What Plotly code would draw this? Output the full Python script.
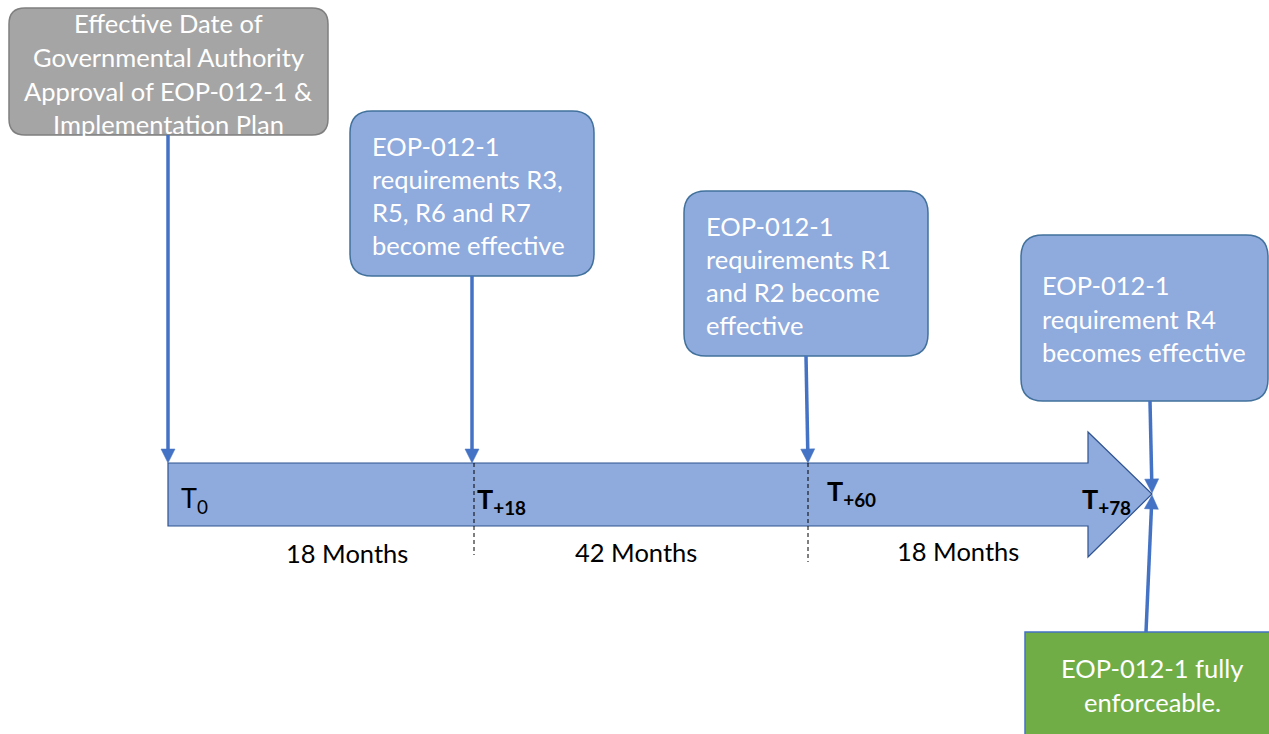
import math
import plotly.graph_objects as go

W, H = 1269, 734

# ---------------- data ----------------
milestone_months = [0, 18, 60, 78]
milestone_labels = ["T<sub>0</sub>", "<b>T<sub>+18</sub></b>", "<b>T<sub>+60</sub></b>", "<b>T<sub>+78</sub></b>"]
period_labels = ["18 Months", "42 Months", "18 Months"]

approval_lines = ["Effective Date of", "Governmental Authority", "Approval of EOP-012-1 &", "Implementation Plan"]
r3_lines = ["EOP-012-1", "requirements R3,", "R5, R6 and R7", "become effective"]
r1_lines = ["EOP-012-1", "requirements R1", "and R2 become", "effective"]
r4_lines = ["EOP-012-1", "requirement R4", "becomes effective"]
final_lines = ["EOP-012-1 fully", "enforceable."]

# ---------------- layout geometry (pixels) ----------------
FONT = "Lato"
TXT = 25.5
BLUE_FILL = "#8faadc"
BLUE_EDGE = "#41719c"
ARROW_COL = "#4472c4"

milestone_x = [168, 472, 807, 1152]
bar_top, bar_bot = 463, 526
head_x, head_top, head_bot, tip_y = 1088, 432, 557, 494

shapes = []
annotations = []


def rrect(x0, y0, x1, y1, r):
    return (f"M {x0+r},{y0} L {x1-r},{y0} Q {x1},{y0} {x1},{y0+r} "
            f"L {x1},{y1-r} Q {x1},{y1} {x1-r},{y1} L {x0+r},{y1} "
            f"Q {x0},{y1} {x0},{y1-r} L {x0},{y0+r} Q {x0},{y0} {x0+r},{y0} Z")


def box(x0, y0, x1, y1, r, fill, edge, lines, ys, tx, align):
    shapes.append(dict(type="path", path=rrect(x0, y0, x1, y1, r), xref="x", yref="y",
                       fillcolor=fill, line=dict(color=edge, width=1.5), layer="above"))
    for t, y in zip(lines, ys):
        annotations.append(dict(x=tx, y=y, xref="x", yref="y", text=t, showarrow=False,
                                xanchor=align, yanchor="middle",
                                font=dict(family=FONT, size=TXT, color="white")))


def arrow(x_tail, y_tail, x_tip, y_tip, head_len=14, head_half=7):
    dx, dy = x_tip - x_tail, y_tip - y_tail
    L = math.hypot(dx, dy)
    ux, uy = dx / L, dy / L
    bx, by = x_tip - ux * head_len, y_tip - uy * head_len
    px, py = -uy, ux
    shapes.append(dict(type="line", xref="x", yref="y", x0=x_tail, y0=y_tail,
                       x1=bx + ux * 2, y1=by + uy * 2,
                       line=dict(color=ARROW_COL, width=3.5), layer="above"))
    shapes.append(dict(type="path", xref="x", yref="y",
                       path=(f"M {x_tip},{y_tip} L {bx + px*head_half},{by + py*head_half} "
                             f"L {bx - px*head_half},{by - py*head_half} Z"),
                       fillcolor=ARROW_COL, line=dict(color=ARROW_COL, width=0.5), layer="above"))


# big timeline arrow
shapes.append(dict(type="path", xref="x", yref="y",
                   path=(f"M {milestone_x[0]},{bar_top} L {head_x},{bar_top} L {head_x},{head_top} "
                         f"L {milestone_x[3]},{tip_y} L {head_x},{head_bot} L {head_x},{bar_bot} "
                         f"L {milestone_x[0]},{bar_bot} Z"),
                   fillcolor=BLUE_FILL, line=dict(color="#2f528f", width=1.2), layer="below"))

# dashed separators
for x, y1 in [(474, 555), (808, 562)]:
    shapes.append(dict(type="line", xref="x", yref="y", x0=x, x1=x, y0=bar_top, y1=y1,
                       line=dict(color="black", width=1, dash="4px,3px"), layer="above"))

# boxes
box(9, 8, 328, 135, 16, "#a5a5a5", "#7f7f7f", approval_lines, [23, 57, 91, 124], 168, "center")
box(350, 111, 594, 276, 22, BLUE_FILL, BLUE_EDGE, r3_lines, [146, 179, 212, 245], 370, "left")
box(684, 191, 928, 356, 22, BLUE_FILL, BLUE_EDGE, r1_lines, [226, 259, 292, 325], 704, "left")
box(1021, 235, 1268, 401, 22, BLUE_FILL, BLUE_EDGE, r4_lines, [285, 319, 352], 1040, "left")
box(1025, 632, 1280, 745, 0, "#70ad47", ARROW_COL, final_lines, [668, 702], 1152, "center")

# arrows
arrow(168, 135, 168, bar_top)
arrow(472, 276, 472, bar_top)
arrow(806, 356, 808, bar_top)
arrow(1150, 401, 1152, tip_y - 1)
arrow(1146, 632, 1152, tip_y + 1)

# milestone labels
label_pos = [(179, 499), (475, 500), (825, 492), (1080, 500)]
for lab, (x, y) in zip(milestone_labels, label_pos):
    annotations.append(dict(x=x, y=y, xref="x", yref="y", text=lab, showarrow=False,
                            xanchor="left", yanchor="middle",
                            font=dict(family=FONT, size=27, color="black")))

# period labels
period_pos = [(347, 553), (636, 552), (958, 551)]
for lab, (x, y) in zip(period_labels, period_pos):
    annotations.append(dict(x=x, y=y, xref="x", yref="y", text=lab, showarrow=False,
                            xanchor="center", yanchor="middle",
                            font=dict(family=FONT, size=TXT, color="black")))

fig = go.Figure()
fig.update_layout(
    width=W, height=H, margin=dict(l=0, r=0, t=0, b=0),
    paper_bgcolor="white", plot_bgcolor="white",
    xaxis=dict(range=[0, W], visible=False, fixedrange=True),
    yaxis=dict(range=[H, 0], visible=False, fixedrange=True),
    shapes=shapes, annotations=annotations, showlegend=False,
)
fig.write_html("out.html", config={"displayModeBar": False},
               post_script="document.body.style.margin='0';document.body.style.overflow='hidden';")
